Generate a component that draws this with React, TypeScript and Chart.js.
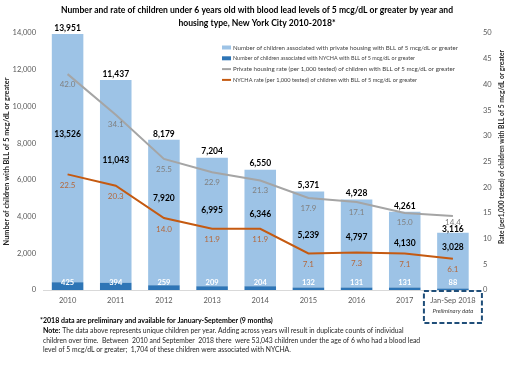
import React, { useEffect, useRef } from "react";
import { Chart, registerables } from "chart.js";

Chart.register(...registerables);

const categories = ["2010", "2011", "2012", "2013", "2014", "2015", "2016", "2017", "Jan-Sep 2018"];
const totalChildren = [13951, 11437, 8179, 7204, 6550, 5371, 4928, 4261, 3116];
const privateChildren = [13526, 11043, 7920, 6995, 6346, 5239, 4797, 4130, 3028];
const nychaChildren = [425, 394, 259, 209, 204, 132, 131, 131, 88];
const privateRate = [42.0, 34.1, 25.5, 22.9, 21.3, 17.9, 17.1, 15.0, 14.4];
const nychaRate = [22.5, 20.3, 14.0, 11.9, 11.9, 7.1, 7.3, 7.1, 6.1];

const leftMax = 14000;
const leftStep = 2000;
const rightMax = 50;
const rightStep = 5;

const titleLines = [
  "Number and rate of children under 6 years old with blood lead levels of 5 mcg/dL or greater by year and",
  "housing type, New York City 2010-2018*",
];
const seriesNames = [
  "Number of children associated with private housing with BLL of 5 mcg/dL or greater",
  "Number of children associated with NYCHA with BLL of 5 mcg/dL or greater",
  "Private housing rate (per 1,000 tested) of children with BLL of 5 mcg/dL or greater",
  "NYCHA rate (per 1,000 tested) of children with BLL of 5 mcg/dL or greater",
];
const leftAxisTitle = "Number of children with BLL of 5 mcg/dL or greater";
const rightAxisTitle = "Rate (per1,000 tested) of children with BLL of 5 mcg/dL or greater";
const preliminaryLabel = "Preliminary data";
const footnote = "*2018 data are preliminary and available for January-September (9 months)";
const noteLead = "Note:";
const noteLines = [
  "The data above represents unique children per year. Adding across years will result in duplicate counts of individual",
  "children over time.  Between  2010 and September  2018 there  were 53,043 children under the age of 6 who had a blood lead",
  "level of 5 mcg/dL or greater;  1,704 of these children were associated with NYCHA.",
];

const FONT = "Lato, 'Liberation Sans', sans-serif";
const COLORS = {
  privateBar: "#9dc3e6",
  nychaBar: "#2e75b6",
  privateLine: "#a5a5a5",
  nychaLine: "#c55a11",
  privateLabel: "#808080",
  nychaLabel: "#b4683c",
  axisText: "#595959",
  legendText: "#404040",
  box: "#1f4e79",
};

const fmt = (n: number) => n.toLocaleString("en-US");

function txt(
  ctx: CanvasRenderingContext2D,
  s: string,
  x: number,
  y: number,
  font: string,
  color: string,
  align: CanvasTextAlign = "center",
  maxWidth?: number
) {
  ctx.font = font;
  ctx.fillStyle = color;
  ctx.textAlign = align;
  ctx.textBaseline = "middle";
  if (maxWidth && ctx.measureText(s).width > maxWidth) ctx.fillText(s, x, y, maxWidth);
  else ctx.fillText(s, x, y);
}

const overlay = {
  id: "overlay",
  afterDatasetsDraw(chart: any) {
    const { ctx, chartArea, scales } = chart;
    const x = scales.x;
    const y = scales.y;
    const y1 = scales.y1;
    ctx.save();

    // Data labels
    categories.forEach((_, i) => {
      const cx = x.getPixelForValue(i);
      const topY = y.getPixelForValue(totalChildren[i]);
      const gY = y1.getPixelForValue(privateRate[i]);
      const oY = y1.getPixelForValue(nychaRate[i]);
      let totalY = topY - 6;
      let gLabelY = gY + 10;
      if (gY < topY && gLabelY > totalY - 8) {
        gLabelY = gY + 6;
        totalY = gY + 13;
      }
      txt(ctx, fmt(totalChildren[i]), cx, totalY, `bold 8.5px ${FONT}`, "#000000");
      txt(ctx, privateRate[i].toFixed(1), cx, gLabelY, `8px ${FONT}`, COLORS.privateLabel);
      txt(ctx, nychaRate[i].toFixed(1), cx, oY + 11, `8px ${FONT}`, COLORS.nychaLabel);
      const midY = (gY + oY) / 2 + 10;
      txt(ctx, fmt(privateChildren[i]), cx, midY, `bold 8.5px ${FONT}`, "#000000");
      txt(ctx, fmt(nychaChildren[i]), cx, y.getPixelForValue(0) - 7, `bold 7.5px ${FONT}`, "#ffffff");
    });

    // Title
    txt(ctx, titleLines[0], 257, 10, `bold 8.6px ${FONT}`, "#000000", "center", 392);
    txt(ctx, titleLines[1], 257, 23, `bold 8.6px ${FONT}`, "#000000", "center", 392);

    // Axis titles
    ctx.save();
    ctx.translate(6.5, (chartArea.top + chartArea.bottom) / 2);
    ctx.rotate(-Math.PI / 2);
    txt(ctx, leftAxisTitle, 0, 0, `bold 7.3px ${FONT}`, "#262626", "center", 180);
    ctx.restore();
    ctx.save();
    ctx.translate(502, 147);
    ctx.rotate(-Math.PI / 2);
    txt(ctx, rightAxisTitle, 0, 0, `bold 7.3px ${FONT}`, "#262626", "center", 194);
    ctx.restore();

    // Legend
    const lx = 222;
    const ly = 47.5;
    const lh = 10.8;
    ctx.fillStyle = COLORS.privateBar;
    ctx.fillRect(lx, ly - 2, 9, 4);
    ctx.fillStyle = COLORS.nychaBar;
    ctx.fillRect(lx, ly + lh - 2, 9, 4);
    ctx.lineWidth = 2;
    ctx.strokeStyle = COLORS.privateLine;
    ctx.beginPath();
    ctx.moveTo(lx, ly + 2 * lh);
    ctx.lineTo(lx + 9, ly + 2 * lh);
    ctx.stroke();
    ctx.strokeStyle = COLORS.nychaLine;
    ctx.beginPath();
    ctx.moveTo(lx, ly + 3 * lh);
    ctx.lineTo(lx + 9, ly + 3 * lh);
    ctx.stroke();
    const legendWidths = [225, 182, 222, 184];
    seriesNames.forEach((s, i) => {
      txt(ctx, s, lx + 11, ly + i * lh, `6.4px ${FONT}`, COLORS.legendText, "left", legendWidths[i]);
    });

    // Preliminary box
    const c8 = x.getPixelForValue(categories.length - 1);
    txt(ctx, preliminaryLabel, c8, 311, `italic 6px ${FONT}`, COLORS.legendText);
    ctx.strokeStyle = COLORS.box;
    ctx.lineWidth = 2;
    ctx.setLineDash([5, 2.5]);
    ctx.strokeRect(c8 - 29, 291, 58, 32);
    ctx.setLineDash([]);

    // Footnotes
    txt(ctx, footnote, 40, 321, `bold 7px ${FONT}`, "#000000", "left", 237);
    ctx.font = `bold 7px ${FONT}`;
    const nw = ctx.measureText(noteLead).width;
    txt(ctx, noteLead, 43, 331, `bold 7px ${FONT}`, "#000000", "left");
    txt(ctx, noteLines[0], 43 + nw + 2, 331, `6.8px ${FONT}`, "#262626", "left", 417 - 45 - nw);
    txt(ctx, noteLines[1], 43, 340.5, `6.8px ${FONT}`, "#262626", "left", 380);
    txt(ctx, noteLines[2], 43, 349.5, `6.8px ${FONT}`, "#262626", "left", 250);

    ctx.restore();
  },
};

export default function App() {
  const ref = useRef<HTMLCanvasElement | null>(null);
  useEffect(() => {
    if (!ref.current) return;
    const tickFont = { family: FONT, size: 7.5 };
    const chart = new Chart(ref.current, {
      type: "bar",
      data: {
        labels: categories,
        datasets: [
          {
            type: "line",
            label: seriesNames[2],
            data: privateRate,
            yAxisID: "y1",
            borderColor: COLORS.privateLine,
            backgroundColor: COLORS.privateLine,
            borderWidth: 2,
            pointRadius: 0,
            tension: 0,
            order: 0,
          },
          {
            type: "line",
            label: seriesNames[3],
            data: nychaRate,
            yAxisID: "y1",
            borderColor: COLORS.nychaLine,
            backgroundColor: COLORS.nychaLine,
            borderWidth: 2,
            pointRadius: 0,
            tension: 0,
            order: 0,
          },
          {
            type: "bar",
            label: seriesNames[1],
            data: nychaChildren,
            yAxisID: "y",
            backgroundColor: COLORS.nychaBar,
            stack: "children",
            order: 1,
            categoryPercentage: 1,
            barPercentage: 0.655,
          },
          {
            type: "bar",
            label: seriesNames[0],
            data: privateChildren,
            yAxisID: "y",
            backgroundColor: COLORS.privateBar,
            stack: "children",
            order: 1,
            categoryPercentage: 1,
            barPercentage: 0.655,
          },
        ],
      } as any,
      options: {
        responsive: false,
        animation: false,
        layout: { padding: { top: 33, left: 0, right: 0, bottom: 0 } },
        plugins: {
          legend: { display: false },
          tooltip: { enabled: false },
          title: { display: false },
        },
        scales: {
          x: {
            stacked: true,
            grid: { display: false, drawTicks: false },
            border: { display: true, color: "#d9d9d9", width: 1 },
            ticks: {
              font: tickFont,
              color: COLORS.axisText,
              padding: 6,
              maxRotation: 0,
              autoSkip: false,
            },
            afterFit: (s: any) => {
              s.height = 82;
            },
          },
          y: {
            stacked: true,
            min: 0,
            max: leftMax,
            grid: { display: false, drawTicks: false },
            border: { display: false },
            ticks: {
              stepSize: leftStep,
              font: tickFont,
              color: COLORS.axisText,
              padding: 7.5,
              callback: (v: any) => fmt(Number(v)),
            },
            afterFit: (s: any) => {
              s.width = 43.5;
            },
          },
          y1: {
            position: "right",
            min: 0,
            max: rightMax,
            grid: { display: false, drawTicks: false },
            border: { display: false },
            ticks: {
              stepSize: rightStep,
              font: tickFont,
              color: COLORS.axisText,
              padding: 6,
            },
            afterFit: (s: any) => {
              s.width = 36;
            },
          },
        },
      } as any,
      plugins: [overlay],
    });
    return () => chart.destroy();
  }, []);

  return (
    <div style={{ position: "fixed", left: 0, top: 0, width: 513, height: 372, background: "#ffffff" }}>
      <canvas ref={ref} width={513} height={372} style={{ width: 513, height: 372, display: "block" }} />
    </div>
  );
}
